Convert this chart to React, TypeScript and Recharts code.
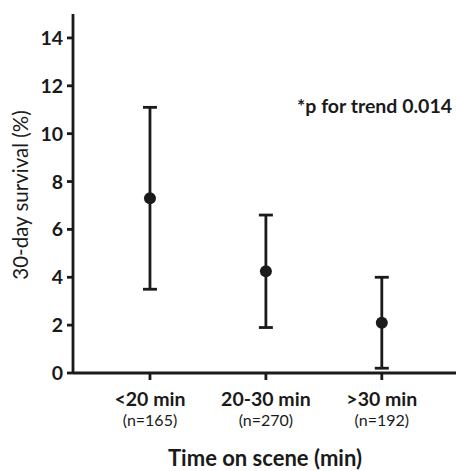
import {
  ComposedChart,
  Scatter,
  ErrorBar,
  XAxis,
  YAxis,
} from "recharts";

const groups = ["<20 min", "20-30 min", ">30 min"];
const counts = ["(n=165)", "(n=270)", "(n=192)"];
const survival = [7.3, 4.25, 2.1];
const lower = [3.5, 1.9, 0.2];
const upper = [11.1, 6.6, 4.0];
const yTicks = [0, 2, 4, 6, 8, 10, 12, 14];

const data = groups.map((g, i) => ({
  x: i + 1,
  y: survival[i],
  err: [survival[i] - lower[i], upper[i] - survival[i]],
}));

const FONT = "Lato, 'Open Sans', sans-serif";
const INK = "#1a1a1a";

function XTick(props: any) {
  const { x, y, payload } = props;
  const i = payload.value - 1;
  return (
    <g>
      <text x={x} y={y + 24} textAnchor="middle" fontFamily={FONT} fontWeight={700} fontSize={19.5} fill={INK}>
        {groups[i]}
      </text>
      <text x={x} y={y + 44} textAnchor="middle" fontFamily={FONT} fontSize={16} fill={INK}>
        {counts[i]}
      </text>
    </g>
  );
}

function YTick(props: any) {
  const { x, y, payload } = props;
  return (
    <text x={x - 1} y={y + 7} textAnchor="end" fontFamily={FONT} fontWeight={700} fontSize={19.5} fill={INK}>
      {payload.value}
    </text>
  );
}

export default function App() {
  return (
    <div style={{ position: "absolute", left: 0, top: 0, background: "#fff" }}>
      <ComposedChart
        width={456}
        height={471}
        data={data}
        margin={{ top: 14, right: 0, left: 0, bottom: 0 }}
      >
        <XAxis
          dataKey="x"
          type="number"
          domain={[0.336, 3.64]}
          ticks={[1, 2, 3]}
          allowDataOverflow
          height={98}
          stroke={INK}
          strokeWidth={2.8}
          tickSize={7}
          tick={<XTick />}
        />
        <YAxis
          type="number"
          domain={[0, 15]}
          ticks={yTicks}
          width={73}
          stroke={INK}
          strokeWidth={2.8}
          tickSize={6}
          tickMargin={3}
          tick={<YTick />}
        />
        <Scatter
          dataKey="y"
          fill={INK}
          isAnimationActive={false}
          shape={(p: any) => <circle cx={p.cx} cy={p.cy} r={6} fill={INK} />}
        >
          <ErrorBar dataKey="err" direction="y" width={7} stroke={INK} strokeWidth={2.8} />
        </Scatter>
        <text x={452} y={113} textAnchor="end" fontFamily={FONT} fontWeight={700} fontSize={19.5} fill={INK}>
          *p for trend 0.014
        </text>
        <text
          x={28}
          y={195}
          transform="rotate(-90 28 195)"
          textAnchor="middle"
          fontFamily={FONT}
          fontSize={20.5}
          fill={INK}
        >
          30-day survival (%)
        </text>
        <text x={265} y={466} textAnchor="middle" fontFamily={FONT} fontWeight={700} fontSize={22} fill={INK}>
          Time on scene (min)
        </text>
      </ComposedChart>
    </div>
  );
}
